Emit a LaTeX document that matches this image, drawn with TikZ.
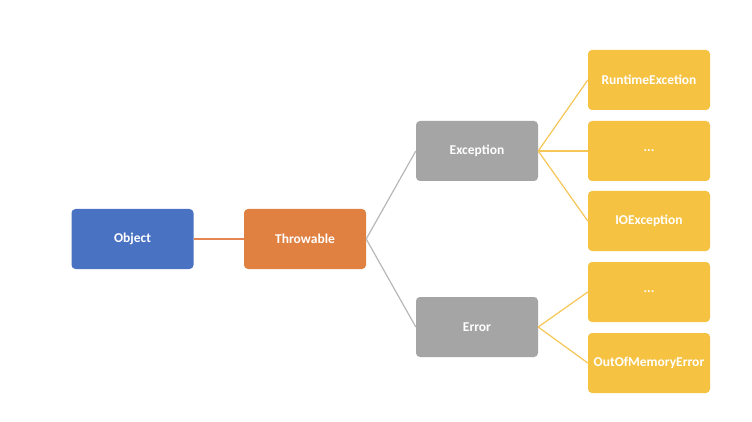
\documentclass[tikz,border=0pt]{standalone}
\usepackage{fontspec}
\setmainfont{Carlito}
\definecolor{cblue}{HTML}{4A72C2}
\definecolor{corange}{HTML}{E08142}
\definecolor{cgray}{HTML}{A5A5A5}
\definecolor{cyellow}{HTML}{F5C242}
\definecolor{lorange}{HTML}{E58550}
\definecolor{lgray}{HTML}{B8B8B8}
\definecolor{lyellow}{HTML}{F6C656}
\begin{document}
\begin{tikzpicture}[x=1pt,y=-1pt,
  box/.style={rectangle,rounded corners=4pt,minimum width=122pt,minimum height=60pt,inner sep=0pt,text=white,font=\fontsize{13.5}{16}\selectfont\bfseries,anchor=center},
  link/.style={line width=1.2pt}]
\useasboundingbox (0,0) rectangle (752,422);
\fill[white] (0,0) rectangle (752,422);
\node[box,fill=cblue] (obj) at (132.5,239) {Object};
\node[box,fill=corange] (thr) at (305,239) {Throwable};
\node[box,fill=cgray] (exc) at (477,151) {Exception};
\node[box,fill=cgray] (err) at (477,327) {Error};
\node[box,fill=cyellow] (rt) at (649,80) {RuntimeExcetion};
\node[box,fill=cyellow] (d1) at (649,151) {...};
\node[box,fill=cyellow] (io) at (649,221) {IOException};
\node[box,fill=cyellow] (d2) at (649,292) {...};
\node[box,fill=cyellow] (oom) at (649,363) {OutOfMemoryError};
\draw[link,lorange] (obj.east) -- (thr.west);
\draw[link,lgray] (thr.east) -- (exc.west);
\draw[link,lgray] (thr.east) -- (err.west);
\draw[link,lyellow] (exc.east) -- (rt.west);
\draw[link,lyellow] (exc.east) -- (d1.west);
\draw[link,lyellow] (exc.east) -- (io.west);
\draw[link,lyellow] (err.east) -- (d2.west);
\draw[link,lyellow] (err.east) -- (oom.west);
\end{tikzpicture}
\end{document}
